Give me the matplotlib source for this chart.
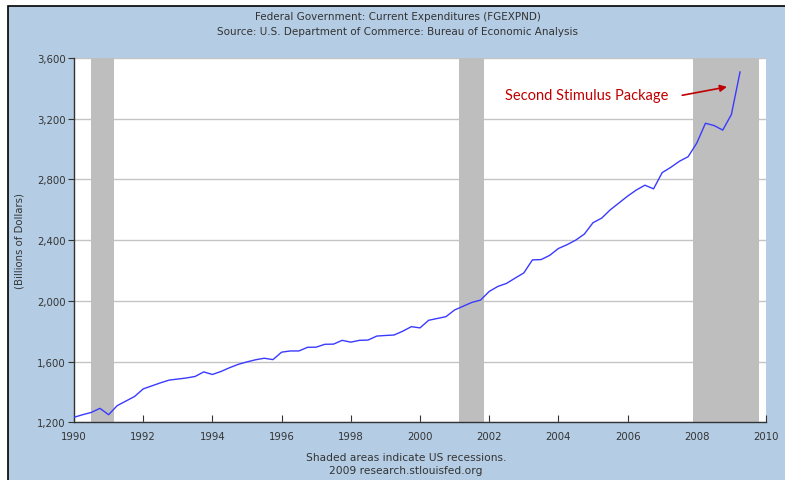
import numpy as np
import matplotlib.pyplot as plt
from matplotlib.patches import Rectangle
from matplotlib.ticker import FuncFormatter

# Quarterly federal current expenditures, billions of dollars (SAAR)
years = np.arange(1990, 2009.5, 0.25)
spending = [
    1233, 1250, 1265, 1292, 1250, 1310, 1340, 1370,   # 1990-1991
    1420, 1440, 1460, 1478, 1485, 1492, 1502, 1532,   # 1992-1993
    1515, 1535, 1560, 1582, 1598, 1612, 1622, 1613,   # 1994-1995
    1662, 1670, 1670, 1694, 1695, 1714, 1715, 1740,   # 1996-1997
    1728, 1740, 1742, 1768, 1772, 1775, 1800, 1830,   # 1998-1999
    1822, 1872, 1884, 1896, 1940, 1965, 1990, 2005,   # 2000-2001
    2062, 2095, 2115, 2150, 2184, 2270, 2272, 2300,   # 2002-2003
    2345, 2370, 2400, 2440, 2515, 2545, 2600, 2645,   # 2004-2005
    2690, 2730, 2762, 2738, 2845, 2880, 2920, 2950,   # 2006-2007
    3040, 3170, 3155, 3125, 3228, 3508,               # 2008-2009
]

# recession periods (start, end) in decimal years
recessions = [(1990.5, 1991.17), (2001.14, 2001.85), (2007.88, 2009.8)]

x_ticks = np.arange(1990, 2011, 2)
y_ticks = np.arange(1200, 3601, 400)

bg_blue = "#b4cde4"

fig = plt.figure(figsize=(7.85, 4.81), dpi=100, facecolor="white")

# blue panel with black frame (screenshot style)
W, H = 785, 481
fig.patches.append(Rectangle((8 / W, -0.05), 1.1, (H - 7) / H + 0.05,
                             transform=fig.transFigure, facecolor=bg_blue,
                             edgecolor="black", linewidth=1.2, zorder=-10))

ax = fig.add_axes([74 / W, 1 - 423.3 / H, (766 - 74) / W, (423.3 - 59) / H])
ax.set_facecolor("white")

for start, end in recessions:
    ax.axvspan(start, end, color="#bebebe", lw=0, zorder=1)

ax.plot(years, spending, color="#3a3aff", lw=1.0, zorder=3)

ax.set_xlim(1990, 2010)
ax.set_ylim(1200, 3600)
ax.set_xticks(x_ticks)
ax.set_yticks(y_ticks)
ax.yaxis.set_major_formatter(FuncFormatter(lambda v, p: f"{int(v):,}"))

ax.grid(axis="y", color="#c4c4c4", lw=1.0, zorder=0)
ax.set_axisbelow(True)

for s in ["top", "right"]:
    ax.spines[s].set_visible(False)
for s in ["left", "bottom"]:
    ax.spines[s].set_color("#333333")
    ax.spines[s].set_linewidth(1.0)

ax.tick_params(axis="x", direction="in", length=5, color="#333333",
               labelsize=7.3, labelcolor="#333333", pad=6)
ax.tick_params(axis="y", direction="out", length=4, color="#333333",
               labelsize=7.3, labelcolor="#333333", pad=2)

ax.set_ylabel("(Billions of Dollars)", fontsize=7.3, color="#333333")
ax.yaxis.set_label_coords(-0.072, 0.5)

# titles and footers
fig.text(0.507, 1 - 17 / H, "Federal Government: Current Expenditures (FGEXPND)",
         ha="center", va="center", fontsize=7.5, color="#333333")
fig.text(0.507, 1 - 32 / H, "Source: U.S. Department of Commerce: Bureau of Economic Analysis",
         ha="center", va="center", fontsize=7.5, color="#333333")
fig.text(0.517, 1 - 458 / H, "Shaded areas indicate US recessions.",
         ha="center", va="center", fontsize=7.7, color="#333333")
fig.text(0.517, 1 - 471 / H, "2009 research.stlouisfed.org",
         ha="center", va="center", fontsize=7.7, color="#333333")

# annotation
ax.text(2002.46, 3358, "Second Stimulus Package", color="#c00000",
        fontsize=10.5, family=["Lato", "DejaVu Sans"], ha="left", va="center", zorder=5)
ax.annotate("", xy=(2008.95, 3413), xytext=(2007.5, 3351),
            arrowprops=dict(arrowstyle="-|>", color="#c00000", lw=1.2,
                            mutation_scale=10), zorder=5)

fig.savefig("out.png", dpi=100, facecolor=fig.get_facecolor())
